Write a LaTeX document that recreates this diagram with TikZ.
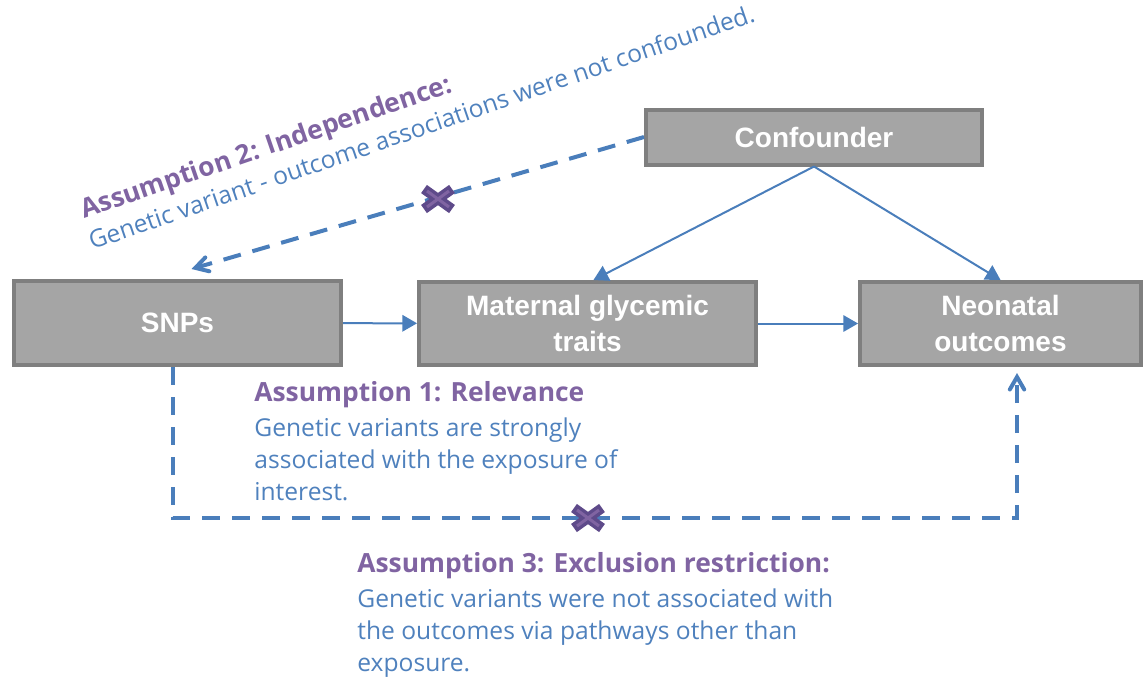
\documentclass[tikz,border=0pt]{standalone}
\usepackage{fontspec}
\setmainfont{Open Sans}
\newfontfamily\boxfont{Liberation Sans}
\usepackage{tikz}
\usetikzlibrary{arrows}
\definecolor{boxgray}{HTML}{A5A5A5}
\definecolor{boxedge}{HTML}{7F7F7F}
\definecolor{lineblue}{HTML}{4A7EBB}
\definecolor{textblue}{HTML}{4F81BD}
\definecolor{headpurple}{HTML}{8064A2}
\definecolor{crossdark}{HTML}{5E4A8A}

\tikzset{
	varbox/.style={draw=boxedge, fill=boxgray, line width=2pt, inner sep=0pt, text=white, align=center, font=\boxfont\bfseries\fontsize{14}{18}\selectfont},
	link/.style={lineblue, line width=1pt, -triangle 60},
	dashlink/.style={lineblue, line width=2pt, dash pattern=on 9pt off 6pt, -angle 60},
	note/.style={text=textblue, align=left, inner sep=0pt, font=\fontsize{12.3}{16}\selectfont},
	heading/.style={text=headpurple, inner sep=0pt, font=\bfseries\fontsize{13.2}{16}\selectfont}
}
\newcommand{\blockx}[1]{
	\begin{scope}[shift={(#1)}]
		\draw[crossdark, line width=5pt] (-14,-10) -- (14,10) (-14,10) -- (14,-10);
		\draw[headpurple, line width=1.5pt] (-11,-8) -- (11,8) (-11,8) -- (11,-8);
	\end{scope}
}

\begin{document}
\begin{tikzpicture}[x=0.5pt, y=-0.5pt]
	\useasboundingbox (0,0) rectangle (1145,676);
	% Paths, nodes and wires:
	\node[varbox, minimum width=168pt, minimum height=27.5pt] (conf) at (814,137) {Confounder};
	\node[varbox, minimum width=163.5pt, minimum height=42pt] (snps) at (177.5,323) {SNPs};
	\node[varbox, minimum width=168.5pt, minimum height=41.5pt] (mat) at (587.5,323.5) {Maternal glycemic\\traits};
	\node[varbox, minimum width=140.5pt, minimum height=41.5pt] (neo) at (1000.5,323.5) {Neonatal\\outcomes};
	\draw[link] (snps) -- (mat);
	\draw[link] (mat) -- (neo);
	\draw[link] (conf.south) -- ([xshift=3pt]mat.north);
	\draw[link] (conf.south) -- (neo.north);
	\draw[dashlink] (conf.west) -- ([xshift=7pt,yshift=5pt]snps.north);
	\coordinate (bend) at (173,518);
	\draw[dashlink] (snps.south -| bend) -- (bend) -| ([xshift=8.25pt,yshift=-3pt]neo.south);
	\coordinate (x1) at (438,199);
	\coordinate (x3) at (588,518);
	\blockx{x1}
	\blockx{x3}
	\node[heading, rotate=19, anchor=base west] (a2head) at (84,219) {Assumption 2: Independence:};
	\node[note, rotate=19, anchor=base west] (a2text) at (92,250) {Genetic variant - outcome associations were not confounded.};
	\node[note, anchor=north west] (a1) at (254,381) {{\color{headpurple}\bfseries\fontsize{13.2}{16}\selectfont Assumption 1: Relevance}\\[1.5pt]
		Genetic variants are strongly\\associated with the exposure of\\interest.};
	\node[note, anchor=north west] (a3) at (357,552) {{\color{headpurple}\bfseries\fontsize{13.2}{16}\selectfont Assumption 3: Exclusion restriction:}\\[1.5pt]
		Genetic variants were not associated with\\the outcomes via pathways other than\\exposure.};
\end{tikzpicture}
\end{document}
